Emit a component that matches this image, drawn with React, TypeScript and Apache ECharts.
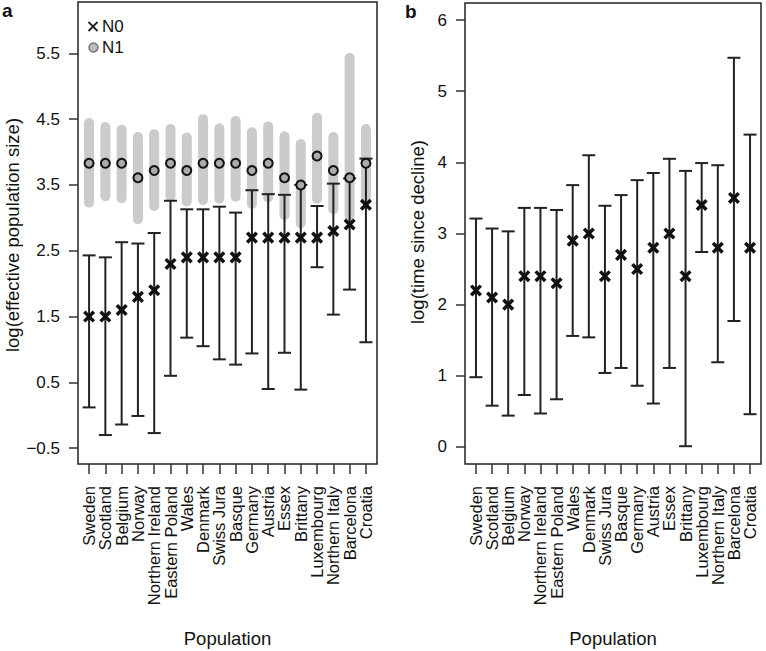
import React, { useEffect, useRef } from "react";
import * as echarts from "echarts";

const populations = [
  "Sweden", "Scotland", "Belgium", "Norway", "Northern Ireland", "Eastern Poland",
  "Wales", "Denmark", "Swiss Jura", "Basque", "Germany", "Austria", "Essex",
  "Brittany", "Luxembourg", "Northern Italy", "Barcelona", "Croatia",
];

// Panel a: log(effective population size)
const n0 = [1.5, 1.5, 1.6, 1.8, 1.9, 2.3, 2.4, 2.4, 2.4, 2.4, 2.7, 2.7, 2.7, 2.7, 2.7, 2.8, 2.9, 3.2];
const n0Low = [0.12, -0.3, -0.14, -0.01, -0.27, 0.6, 1.18, 1.05, 0.85, 0.77, 0.94, 0.4, 0.95, 0.39, 2.25, 1.53, 1.91, 1.11];
const n0High = [2.43, 2.4, 2.63, 2.61, 2.77, 3.26, 3.13, 3.13, 3.17, 3.08, 3.42, 3.36, 3.35, 3.5, 3.18, 3.52, 3.6, 3.9];
const n1 = [3.83, 3.83, 3.83, 3.61, 3.72, 3.83, 3.72, 3.83, 3.83, 3.83, 3.72, 3.83, 3.61, 3.5, 3.94, 3.72, 3.61, 3.83];
const n1Low = [3.23, 3.33, 3.3, 2.98, 3.18, 3.33, 3.25, 3.27, 3.29, 3.32, 3.21, 3.31, 3.04, 2.92, 3.29, 3.13, 3.03, 3.3];
const n1High = [4.44, 4.38, 4.34, 4.23, 4.27, 4.35, 4.22, 4.5, 4.36, 4.47, 4.3, 4.39, 4.24, 4.12, 4.52, 4.23, 5.43, 4.35];

// Panel b: log(time since decline)
const tDecline = [2.2, 2.1, 2.0, 2.4, 2.4, 2.3, 2.9, 3.0, 2.4, 2.7, 2.5, 2.8, 3.0, 2.4, 3.4, 2.8, 3.5, 2.8];
const tLow = [0.98, 0.58, 0.44, 0.73, 0.47, 0.67, 1.56, 1.54, 1.04, 1.11, 0.86, 0.61, 1.11, 0.01, 2.74, 1.19, 1.77, 0.46];
const tHigh = [3.21, 3.07, 3.03, 3.36, 3.36, 3.33, 3.68, 4.1, 3.39, 3.54, 3.75, 3.85, 4.05, 3.88, 3.99, 3.96, 5.47, 4.39];

const xTicks = populations.map((_, i) => i + 1);
const yTicksA = [-0.5, 0.5, 1.5, 2.5, 3.5, 4.5, 5.5];
const yTicksB = [0, 1, 2, 3, 4, 5, 6];

const FONT = "'Liberation Sans', Arial, Helvetica, sans-serif";
const INK = "#111";

function xAxisFor(gridIndex: number) {
  return {
    type: "value",
    gridIndex,
    min: 0.32,
    max: 18.68,
    axisLine: { show: false, onZero: false },
    splitLine: { show: false },
    axisTick: {
      show: true,
      length: 10,
      customValues: xTicks,
      lineStyle: { color: "#333", width: 1.5 },
    },
    axisLabel: { show: false },
  };
}

function yAxisFor(gridIndex: number, min: number, max: number, ticks: number[], fmt: (v: number) => string) {
  return {
    type: "value",
    gridIndex,
    min,
    max,
    axisLine: { show: false, onZero: false },
    splitLine: { show: false },
    axisTick: {
      show: true,
      length: 9,
      customValues: ticks,
      lineStyle: { color: "#333", width: 1.5 },
    },
    axisLabel: {
      show: true,
      customValues: ticks,
      showMinLabel: true,
      showMaxLabel: true,
      margin: 18,
      fontSize: 17,
      color: INK,
      fontFamily: FONT,
      formatter: fmt,
    },
  };
}

// category labels under each panel, drawn at the x-axis tick positions
function categoryLabelSeries(idx: number, yBottom: number) {
  return {
    type: "custom",
    name: "categories",
    xAxisIndex: idx,
    yAxisIndex: idx,
    silent: true,
    clip: false,
    z: 6,
    data: populations.map((_, i) => [i + 1, yBottom]),
    renderItem: (params: any, api: any) => {
      const x = api.value(0);
      const c = api.coord([x, yBottom]);
      const bottom = params.coordSys.y + params.coordSys.height;
      return {
        type: "text",
        x: c[0],
        y: bottom + 22,
        rotation: Math.PI / 2,
        style: {
          text: populations[Math.round(x) - 1],
          font: `16.5px ${FONT}`,
          fill: INK,
          align: "right",
          verticalAlign: "middle",
        },
      };
    },
  };
}

function errorBarSeries(name: string, idx: number, low: number[], high: number[]) {
  return {
    type: "custom",
    name,
    xAxisIndex: idx,
    yAxisIndex: idx,
    z: 3,
    data: low.map((l, i) => [i + 1, l, high[i]]),
    renderItem: (_p: any, api: any) => {
      const x = api.value(0);
      const a = api.coord([x, api.value(1)]);
      const b = api.coord([x, api.value(2)]);
      const style = { stroke: "#222", lineWidth: 2 };
      const half = 6.5;
      return {
        type: "group",
        children: [
          { type: "line", shape: { x1: a[0], y1: a[1], x2: b[0], y2: b[1] }, style },
          { type: "line", shape: { x1: a[0] - half, y1: a[1], x2: a[0] + half, y2: a[1] }, style },
          { type: "line", shape: { x1: b[0] - half, y1: b[1], x2: b[0] + half, y2: b[1] }, style },
        ],
      };
    },
  };
}

function crossSeries(name: string, idx: number, values: number[]) {
  return {
    type: "custom",
    name,
    xAxisIndex: idx,
    yAxisIndex: idx,
    z: 4,
    data: values.map((v, i) => [i + 1, v]),
    renderItem: (_p: any, api: any) => {
      const c = api.coord([api.value(0), api.value(1)]);
      const s = 4.8;
      const style = { stroke: INK, lineWidth: 3.5 };
      return {
        type: "group",
        children: [
          { type: "line", shape: { x1: c[0] - s, y1: c[1] - s, x2: c[0] + s, y2: c[1] + s }, style },
          { type: "line", shape: { x1: c[0] - s, y1: c[1] + s, x2: c[0] + s, y2: c[1] - s }, style },
        ],
      };
    },
  };
}

export default function App() {
  const ref = useRef<HTMLDivElement>(null);

  useEffect(() => {
    if (!ref.current) return;
    const chart = echarts.init(ref.current, undefined, { renderer: "svg" });

    const option: any = {
      animation: false,
      backgroundColor: "#fff",
      textStyle: { fontFamily: FONT },
      grid: [
        { left: 78, top: 2, width: 299, height: 462, show: true, borderColor: "#222", borderWidth: 1.5, backgroundColor: "transparent" },
        { left: 465, top: 3, width: 296, height: 461, show: true, borderColor: "#222", borderWidth: 1.5, backgroundColor: "transparent" },
      ],
      xAxis: [xAxisFor(0), xAxisFor(1)],
      yAxis: [
        yAxisFor(0, -0.74, 6.28, yTicksA, (v: number) => (v < 0 ? "\u2212" : "") + Math.abs(v).toFixed(1)),
        yAxisFor(1, -0.24, 6.24, yTicksB, (v: number) => String(Math.round(v))),
      ],
      series: [
        {
          type: "custom",
          name: "N1 range",
          xAxisIndex: 0,
          yAxisIndex: 0,
          z: 2,
          data: n1Low.map((l, i) => [i + 1, l, n1High[i]]),
          renderItem: (_p: any, api: any) => {
            const x = api.value(0);
            const a = api.coord([x, api.value(1)]);
            const b = api.coord([x, api.value(2)]);
            return {
              type: "line",
              shape: { x1: a[0], y1: a[1], x2: b[0], y2: b[1] },
              style: { stroke: "#cbcbcb", lineWidth: 10, lineCap: "round" },
            };
          },
        },
        errorBarSeries("N0 interval", 0, n0Low, n0High),
        crossSeries("N0", 0, n0),
        {
          type: "scatter",
          name: "N1",
          xAxisIndex: 0,
          yAxisIndex: 0,
          z: 5,
          symbol: "circle",
          symbolSize: 9,
          itemStyle: { color: "#ababab", borderColor: INK, borderWidth: 2, opacity: 1 },
          data: n1.map((v, i) => [i + 1, v]),
        },
        errorBarSeries("time interval", 1, tLow, tHigh),
        crossSeries("time since decline", 1, tDecline),
        categoryLabelSeries(0, -0.74),
        categoryLabelSeries(1, -0.24),
      ],
      graphic: [
        { type: "text", x: 2, y: 1, style: { text: "a", font: `bold 19px ${FONT}`, fill: INK, verticalAlign: "top", align: "left" } },
        { type: "text", x: 405, y: 2, style: { text: "b", font: `bold 19px ${FONT}`, fill: INK, verticalAlign: "top", align: "left" } },
        // legend
        { type: "line", shape: { x1: 88.5, y1: 22, x2: 97.5, y2: 31 }, style: { stroke: "#222", lineWidth: 1.8 } },
        { type: "line", shape: { x1: 88.5, y1: 31, x2: 97.5, y2: 22 }, style: { stroke: "#222", lineWidth: 1.8 } },
        { type: "text", x: 102, y: 26.5, style: { text: "N0", font: `17px ${FONT}`, fill: INK, verticalAlign: "middle", align: "left" } },
        { type: "circle", shape: { cx: 93.5, cy: 47.5, r: 4.5 }, style: { fill: "#bdbdbd", stroke: "#777", lineWidth: 1.5 } },
        { type: "text", x: 102, y: 47.5, style: { text: "N1", font: `17px ${FONT}`, fill: INK, verticalAlign: "middle", align: "left" } },
        // axis titles
        { type: "text", x: 12.5, y: 235, rotation: Math.PI / 2, style: { text: "log(effective population size)", font: `18.5px ${FONT}`, fill: INK, align: "center", verticalAlign: "middle" } },
        { type: "text", x: 417, y: 232, rotation: Math.PI / 2, style: { text: "log(time since decline)", font: `18.5px ${FONT}`, fill: INK, align: "center", verticalAlign: "middle" } },
        { type: "text", x: 227.5, y: 638, style: { text: "Population", font: `18.5px ${FONT}`, fill: INK, align: "center", verticalAlign: "middle" } },
        { type: "text", x: 613, y: 638, style: { text: "Population", font: `18.5px ${FONT}`, fill: INK, align: "center", verticalAlign: "middle" } },
      ],
    };

    chart.setOption(option);
    return () => chart.dispose();
  }, []);

  return (
    <div
      ref={ref}
      style={{ position: "absolute", left: 0, top: 0, width: 766, height: 651, background: "#fff" }}
    />
  );
}
